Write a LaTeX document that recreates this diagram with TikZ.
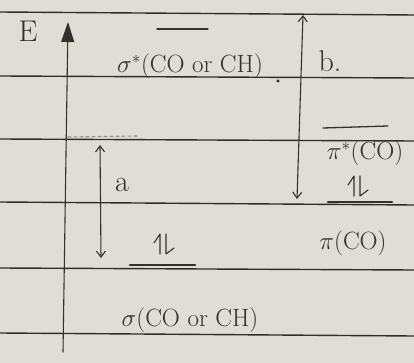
\documentclass[tikz,border=0pt]{standalone}
\usetikzlibrary{arrows.meta}
\definecolor{paper}{RGB}{224,221,214}
\definecolor{rule}{RGB}{48,45,43}
\definecolor{ink}{RGB}{52,48,47}
\tikzset{
  ruled/.style={draw=rule, line width=1.4pt},
  ink/.style={draw=ink, line width=1.1pt, line cap=round, line join=round},
  level/.style={draw=ink, line width=1.3pt, line cap=round},
  filled/.style={draw=ink, line width=2.6pt, line cap=round},
  lab/.style={text=ink, inner sep=0pt, font=\fontsize{25}{29}\selectfont},
  big/.style={text=ink, inner sep=0pt, font=\fontsize{30}{34}\selectfont},
  barb/.style={ink, {Straight Barb[length=6pt,width=9pt]}-{Straight Barb[length=6pt,width=9pt]}},
  pair/.pic={
    \draw[ink] (-7,9) -- (-1,0) -- (-1,20);
    \draw[ink] (5,0) -- (5,20) -- (13,14);
  }
}
\begin{document}
\begin{tikzpicture}[x=1pt,y=-1pt]
  % paper and its ruling
  \fill[paper] (0,0) rectangle (414,363);
  \useasboundingbox (0,0) rectangle (414,363);
  \foreach \yl/\yr in {12/15, 76/78, 139/141, 202/205, 268/270, 333/336}
    \draw[ruled] (0,\yl) -- (414,\yr);

  % energy axis
  \coordinate (axbot) at (63,352);
  \coordinate (axtop) at (68,22);
  \draw[ink, -{Triangle[length=20pt,width=13pt]}] (axbot) -- (axtop);
  \node[big] (E) at (28,31) {E};

  % orbital levels
  \draw[level] (157,29) -- (208,29);
  \node[lab] (sigstar) at (190,66) {$\sigma^{*}$(CO or CH)};
  \fill[ink] (278,81) circle (1pt);

  \draw[level] (323,128) -- (388,126);
  \node[lab] (pistar) at (365,153) {$\pi^{*}$(CO)};

  \draw[filled] (328,202) -- (392,202);
  \pic at (355,176) {pair};
  \node[lab] (pi) at (353,243) {$\pi$(CO)};

  \draw[ink, dashed, draw opacity=0.45] (68,137) -- (137,136);

  \draw[filled] (130,265) -- (195,265);
  \pic at (161,234) {pair};
  \node[lab] (sigma) at (190,320) {$\sigma$(CO or CH)};

  % transitions
  \coordinate (btop) at (303,15);
  \coordinate (bbot) at (297,199);
  \draw[barb] (bbot) -- (btop);
  \node[big] (b) at (330,61) {b.};

  \coordinate (atop) at (100,145);
  \coordinate (abot) at (101,258);
  \draw[barb] (abot) -- (atop);
  \node[big] (a) at (122,185) {a};
\end{tikzpicture}
\end{document}
